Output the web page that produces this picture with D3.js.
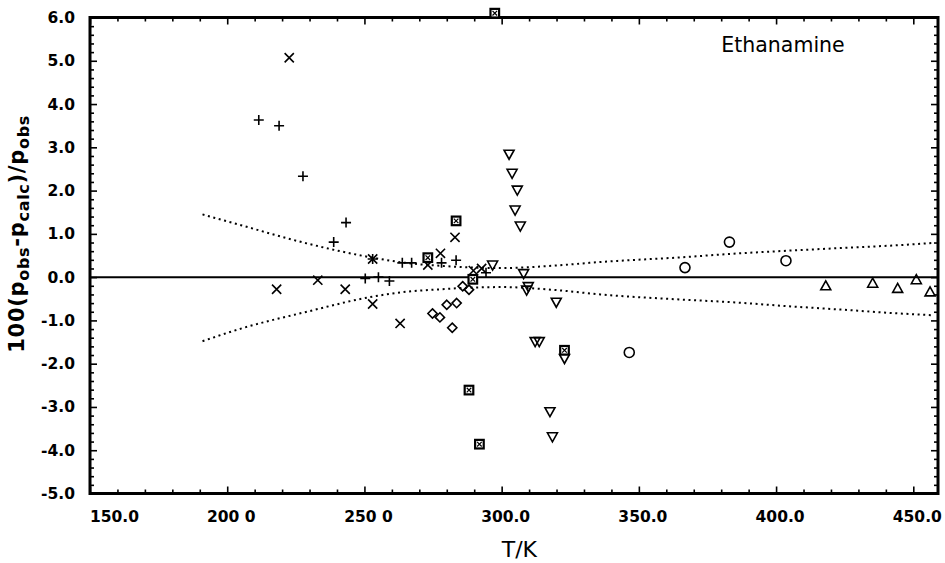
<!DOCTYPE html>
<html>
<head>
<meta charset="utf-8">
<script src="https://cdn.jsdelivr.net/npm/d3@7"></script>
<style>
  html, body { margin: 0; padding: 0; background: #fff; }
  svg { display: block; }
  .tick-label { font-family: "DejaVu Sans", sans-serif; font-weight: bold; font-size: 15.5px; fill: #000; }
  .axis-title { font-family: "DejaVu Sans", sans-serif; fill: #000; }
</style>
</head>
<body>
<svg id="chart" width="945" height="563"></svg>
<script>
// Axis ticks and their printed labels
const xMajorTicks = [150, 200, 250, 300, 350, 400, 450];
const xTickLabels = ["150.0", "200 0", "250 0", "300.0", "350.0", "400.0", "450.0"];
const yMajorTicks = [6, 5, 4, 3, 2, 1, 0, -1, -2, -3, -4, -5];
const yTickLabels = ["6.0", "5.0", "4.0", "3.0", "2.0", "1.0", "0.0", "-1.0", "-2.0", "-3.0", "-4.0", "-5.0"];

// Deviation data sets: [T/K, 100(pobs-pcalc)/pobs]
const plusSeries = [
  [211.5, 3.63], [218.9, 3.50], [227.6, 2.33], [243.3, 1.26], [238.8, 0.81],
  [253.0, 0.42], [263.8, 0.33], [267.2, 0.33], [278.1, 0.33], [283.4, 0.39],
  [250.3, -0.03], [255.1, 0.00], [259.1, -0.09], [294.3, 0.10]
];
const crossSeries = [
  [222.6, 5.07], [253.0, 0.42], [273.1, 0.28], [283.0, 0.92], [277.7, 0.55],
  [218.0, -0.28], [233.0, -0.07], [243.0, -0.28], [253.0, -0.62], [263.0, -1.07],
  [289.7, 0.15], [292.7, 0.20]
];
const diamondSeries = [
  [274.8, -0.84], [277.5, -0.93], [280.0, -0.64], [283.6, -0.60], [282.0, -1.17],
  [285.8, -0.21], [288.1, -0.29]
];
const boxSeries = [
  [297.5, 6.10], [273.1, 0.45], [283.4, 1.30], [289.5, -0.05], [288.1, -2.61],
  [291.9, -3.86], [322.9, -1.69]
];
const downTriangleSeries = [
  [302.7, 2.84], [303.8, 2.40], [305.7, 2.01], [304.9, 1.55], [306.8, 1.18],
  [296.7, 0.28], [308.0, 0.08], [309.7, -0.22], [309.1, -0.30], [319.9, -0.58],
  [312.2, -1.49], [313.7, -1.49], [322.9, -1.88], [317.6, -3.11], [318.5, -3.69]
];
const circleSeries = [
  [366.8, 0.22], [383.0, 0.81], [403.6, 0.38], [346.5, -1.74]
];
const upTriangleSeries = [
  [418.1, -0.20], [435.2, -0.14], [444.3, -0.26], [451.1, -0.06], [456.1, -0.34]
];

// Uncertainty band of the correlation (dotted)
const bandT = [191, 205, 229, 253, 265, 278, 290, 300, 320, 336, 366, 384, 404, 426, 445, 457];
const bandUpper = [1.45, 1.20, 0.78, 0.45, 0.33, 0.26, 0.22, 0.21, 0.27, 0.35, 0.46, 0.54, 0.61, 0.68, 0.74, 0.79];
const bandLower = [-1.48, -1.19, -0.80, -0.45, -0.34, -0.28, -0.24, -0.23, -0.30, -0.40, -0.52, -0.58, -0.67, -0.76, -0.84, -0.88];

const svg = d3.select("#chart");
const plotLeft = 90, plotRight = 938, plotTop = 17.5, plotBottom = 493.5;

const x = d3.scaleLinear().domain([150, 459]).range([plotLeft, plotRight]);
const y = d3.scaleLinear().domain([-5, 6]).range([plotBottom, plotTop]);

const xMinor = d3.range(160, 459, 10).filter(v => v % 50 !== 0);
const yMinor = d3.range(-50, 61, 2).map(v => v / 10).filter(v => Math.abs(v - Math.round(v)) > 1e-6);

// Inward-pointing ticks on all four sides
function tickAxis(axisGen, tr) {
  const g = svg.append("g").attr("transform", tr).call(axisGen);
  g.select(".domain").remove();
  g.selectAll("text").remove();
  g.selectAll("line").attr("stroke", "#000").attr("stroke-width", 1.6);
  return g;
}
tickAxis(d3.axisBottom(x).tickValues(xMajorTicks).tickSize(-7), `translate(0,${plotBottom})`);
tickAxis(d3.axisBottom(x).tickValues(xMinor).tickSize(-4), `translate(0,${plotBottom})`);
tickAxis(d3.axisTop(x).tickValues(xMajorTicks).tickSize(-7), `translate(0,${plotTop})`);
tickAxis(d3.axisTop(x).tickValues(xMinor).tickSize(-4), `translate(0,${plotTop})`);
tickAxis(d3.axisLeft(y).tickValues(yMajorTicks).tickSize(-7), `translate(${plotLeft},0)`);
tickAxis(d3.axisLeft(y).tickValues(yMinor).tickSize(-4), `translate(${plotLeft},0)`);
tickAxis(d3.axisRight(y).tickValues(yMajorTicks).tickSize(-7), `translate(${plotRight},0)`);
tickAxis(d3.axisRight(y).tickValues(yMinor).tickSize(-4), `translate(${plotRight},0)`);

// Frame
svg.append("rect")
  .attr("x", plotLeft).attr("y", plotTop)
  .attr("width", plotRight - plotLeft).attr("height", plotBottom - plotTop)
  .attr("fill", "none").attr("stroke", "#000").attr("stroke-width", 3);

// Zero line
svg.append("line")
  .attr("x1", plotLeft).attr("x2", plotRight)
  .attr("y1", y(0)).attr("y2", y(0))
  .attr("stroke", "#000").attr("stroke-width", 2);

// Tick labels
svg.append("g").selectAll("text").data(xMajorTicks).join("text")
  .attr("class", "tick-label")
  .attr("x", (d, i) => i === 0 ? x(d) : x(d) + 4)
  .attr("y", 522)
  .attr("text-anchor", (d, i) => i === 0 ? "start" : "middle")
  .text((d, i) => xTickLabels[i]);

svg.append("g").selectAll("text").data(yMajorTicks).join("text")
  .attr("class", "tick-label")
  .attr("x", 75)
  .attr("y", d => y(d) + 5.5)
  .attr("text-anchor", "end")
  .text((d, i) => yTickLabels[i]);

// Axis titles
svg.append("text").attr("class", "axis-title")
  .attr("x", x(305) + 4).attr("y", 557)
  .attr("text-anchor", "middle")
  .attr("font-size", 22)
  .text("T/K");

const yTitle = svg.append("text").attr("class", "axis-title")
  .attr("transform", `translate(24,${y(1.0)}) rotate(-90)`)
  .attr("text-anchor", "middle")
  .attr("font-size", 21).attr("font-weight", "bold")
  .attr("letter-spacing", 0.7);
yTitle.append("tspan").text("100(p");
yTitle.append("tspan").attr("font-size", 16).attr("dy", 5).text("obs");
yTitle.append("tspan").attr("dy", -5).text("-p");
yTitle.append("tspan").attr("font-size", 16).attr("dy", 5).text("calc");
yTitle.append("tspan").attr("dy", -5).text(")/p");
yTitle.append("tspan").attr("font-size", 16).attr("dy", 5).text("obs");

// Substance label
svg.append("text").attr("class", "axis-title")
  .attr("x", 783).attr("y", 52)
  .attr("text-anchor", "middle")
  .attr("font-size", 20.5)
  .text("Ethanamine");

// Dotted band
const bandLine = d3.line().x(d => x(d[0])).y(d => y(d[1])).curve(d3.curveMonotoneX);
[bandUpper, bandLower].forEach(vals => {
  svg.append("path")
    .attr("d", bandLine(bandT.map((t, i) => [t, vals[i]])))
    .attr("fill", "none").attr("stroke", "#000")
    .attr("stroke-width", 2).attr("stroke-dasharray", "2,3.6");
});

// Markers
const markerShapes = {
  plus: "M-5,0H5M0,-5V5",
  cross: "M-4.6,-4.6L4.6,4.6M-4.6,4.6L4.6,-4.6",
  diamond: "M0,-4.6L4.6,0L0,4.6L-4.6,0Z",
  down: "M-5,-4L5,-4L0,5Z",
  up: "M-5,4L5,4L0,-5Z"
};
function drawSeries(data, shape) {
  svg.append("g").selectAll("path").data(data).join("path")
    .attr("transform", d => `translate(${x(d[0])},${y(d[1])})`)
    .attr("d", markerShapes[shape])
    .attr("fill", "none").attr("stroke", "#000").attr("stroke-width", 1.6);
}
drawSeries(plusSeries, "plus");
drawSeries(crossSeries, "cross");
drawSeries(diamondSeries, "diamond");
drawSeries(downTriangleSeries, "down");
drawSeries(upTriangleSeries, "up");

svg.append("g").selectAll("circle").data(circleSeries).join("circle")
  .attr("cx", d => x(d[0])).attr("cy", d => y(d[1])).attr("r", 5)
  .attr("fill", "none").attr("stroke", "#000").attr("stroke-width", 1.6);

const boxes = svg.append("g").selectAll("g").data(boxSeries).join("g")
  .attr("transform", d => `translate(${x(d[0])},${y(d[1])})`);
boxes.append("rect").attr("x", -4.3).attr("y", -4.3).attr("width", 8.6).attr("height", 8.6)
  .attr("fill", "#fff").attr("stroke", "#000").attr("stroke-width", 2.2);
boxes.append("path").attr("d", "M-2.3,-2.3L2.3,2.3M-2.3,2.3L2.3,-2.3")
  .attr("stroke", "#000").attr("stroke-width", 1.2);
</script>
</body>
</html>
